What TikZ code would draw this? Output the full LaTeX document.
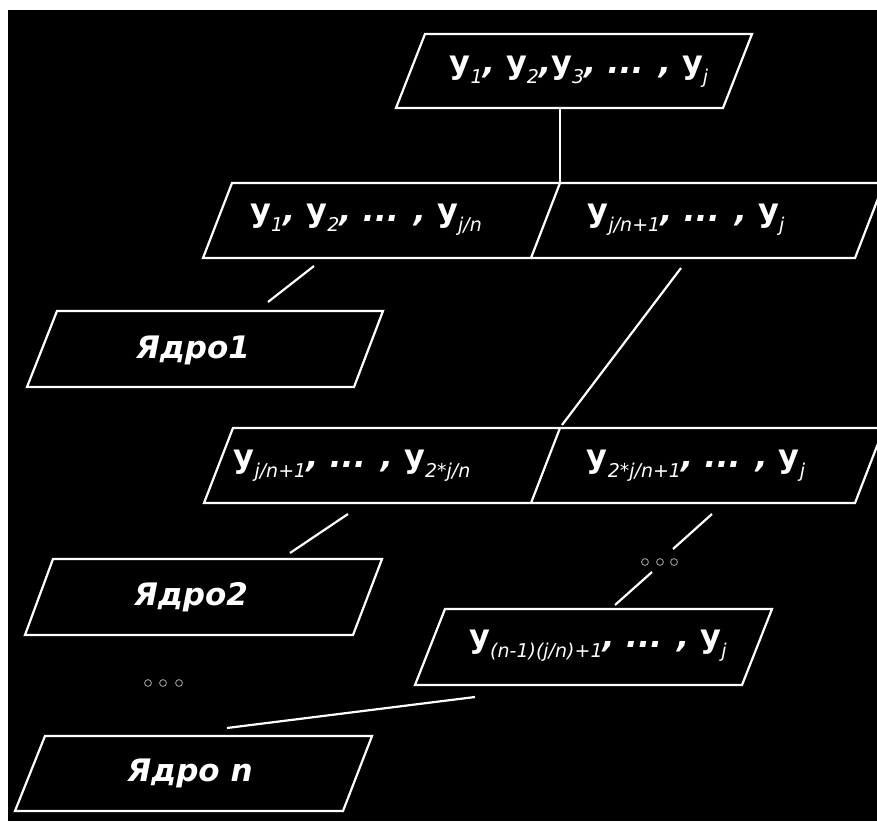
\documentclass[tikz,border=0pt]{standalone}
\usepackage{fontspec}
\setmainfont{DejaVu Sans}
\newcommand\yy[1]{\textbf{y}\raisebox{-0.3em}{\fontsize{19}{19}\selectfont\mdseries\itshape #1}}
\newcommand\cm{\textbf{\textit{,}}}
\newcommand\dd{\textbf{\textit{...}}}
\begin{document}
\begin{tikzpicture}[x=1pt,y=-1pt,
  box/.style={draw=white,line width=2.2pt,line join=miter},
  conn/.style={draw=white,line width=2.2pt},
  lbl/.style={text=white,font=\fontsize{32}{33}\selectfont\bfseries,inner sep=0pt},
  core/.style={text=white,font=\fontsize{31}{32}\selectfont\bfseries\itshape,inner sep=0pt},
  dot/.style={draw=gray!80,line width=0.9pt}]
\useasboundingbox (0,0) rectangle (877,821);
\fill[white] (0,0) rectangle (877,821);
\fill[black] (8,10) rectangle (877,821);
\begin{scope}
\clip (8,10) rectangle (877,821);
% boxes
\draw[box] (425,34) -- (752,34) -- (723,108) -- (396,108) -- cycle;
\draw[box] (232,183) -- (884,183) -- (855,258) -- (203,258) -- cycle;
\draw[box] (560,183) -- (531,258);
\draw[box] (57,311) -- (383,311) -- (354,387) -- (27,387) -- cycle;
\draw[box] (233,428) -- (884,428) -- (855,503) -- (204,503) -- cycle;
\draw[box] (560,428) -- (531,503);
\draw[box] (53,559) -- (382,559) -- (353,635) -- (25,635) -- cycle;
\draw[box] (445,609) -- (772,609) -- (742,685) -- (415,685) -- cycle;
\draw[box] (45,736) -- (372,736) -- (343,811) -- (15,811) -- cycle;
\end{scope}
% labels
\node[lbl] (t1) at (579,72) {\yy{1}\cm{} \yy{2}\cm\yy{3}\cm{} \dd{} \cm{} \yy{j}};
\node[lbl] (t2l) at (366,220) {\yy{1}\cm{} \yy{2}\cm{} \dd{} \cm{} \yy{j/n}};
\node[lbl] (t2r) at (686,220) {\yy{j/n+1}\cm{} \dd{} \cm{} \yy{j}};
\node[lbl] (t3l) at (352,466) {\yy{j/n+1}\cm{} \dd{} \cm{} \yy{2*j/n}};
\node[lbl] (t3r) at (696,466) {\yy{2*j/n+1}\cm{} \dd{} \cm{} \yy{j}};
\node[lbl] (t4) at (598,646) {\yy{(n-1)(j/n)+1}\cm{} \dd{} \cm{} \yy{j}};
\node[core] (k1) at (193,350) {Ядро1};
\node[core] (k2) at (191,597) {Ядро2};
\node[core] (kn) at (190,773) {Ядро n};
% connector ends
\coordinate (a1) at (560,108); \coordinate (b1) at (560,183);
\coordinate (a2) at (314,266); \coordinate (b2) at (268,302);
\coordinate (a3) at (681,268); \coordinate (b3) at (562,425);
\coordinate (a4) at (348,514); \coordinate (b4) at (290,553);
\coordinate (a5) at (712,514); \coordinate (b5) at (673,549);
\coordinate (a6) at (652,572); \coordinate (b6) at (615,605);
\coordinate (a7) at (475,697); \coordinate (b7) at (227,728);
\draw[conn] (a1) -- (b1);
\draw[conn] (a2) -- (b2);
\draw[conn] (a3) -- (b3);
\draw[conn] (a4) -- (b4);
\draw[conn] (a5) -- (b5);
\draw[conn] (a6) -- (b6);
\draw[conn] (a7) -- (b7);
% small circles
\foreach \x in {148,163,179} \draw[dot] (\x,683) circle (3.4);
\foreach \x in {645,660,674} \draw[dot] (\x,562) circle (3.4);
\end{tikzpicture}
\end{document}
